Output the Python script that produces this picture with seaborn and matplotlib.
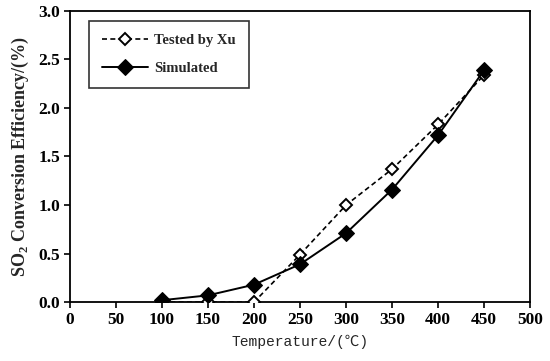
import matplotlib
matplotlib.use("Agg")
import matplotlib.pyplot as plt
import pandas as pd
import seaborn as sns

# ── data ──────────────────────────────────────────────────────────────────────
temperature = [100, 150, 200, 250, 300, 350, 400, 450]
tested_xu = [0.0, 0.0, 0.0, 0.49, 1.00, 1.37, 1.83, 2.34]
simulated = [0.02, 0.07, 0.18, 0.39, 0.71, 1.16, 1.72, 2.39]

sns.set_theme(style="white")
plt.rcParams["font.family"] = ["Liberation Serif", "DejaVu Serif"]
plt.rcParams["font.weight"] = "bold"
plt.rcParams["mathtext.fontset"] = "custom"
plt.rcParams["mathtext.rm"] = "Liberation Serif:bold"
plt.rcParams["mathtext.bf"] = "Liberation Serif:bold"

df_t = pd.DataFrame({"T": temperature, "eff": tested_xu})
df_s = pd.DataFrame({"T": temperature, "eff": simulated})

fig, ax = plt.subplots(figsize=(5.5, 3.61), dpi=100)
fig.subplots_adjust(left=0.127, right=0.964, bottom=0.163, top=0.97)

sns.lineplot(data=df_t, x="T", y="eff", ax=ax, color="black", lw=1.2,
             linestyle=(0, (3, 2)), marker="D", markersize=6.5,
             markerfacecolor="white", markeredgecolor="black",
             markeredgewidth=1.4, label="Tested by Xu", zorder=3)
sns.lineplot(data=df_s, x="T", y="eff", ax=ax, color="black", lw=1.4,
             marker="D", markersize=8.5, markerfacecolor="black",
             markeredgecolor="black", label="Simulated", zorder=4)

ax.set_xlim(0, 500)
ax.set_ylim(0, 3.0)
ax.set_xticks(range(0, 501, 50))
ax.set_yticks([0.0, 0.5, 1.0, 1.5, 2.0, 2.5, 3.0])
ax.set_yticklabels([f"{v:.1f}" for v in ax.get_yticks()])
ax.tick_params(axis="both", direction="out", length=4, width=1.2,
               labelsize=12.5, color="black", labelcolor="black",
               bottom=True, left=True, pad=3)
for lab in ax.get_xticklabels() + ax.get_yticklabels():
    lab.set_fontweight("bold")
for sp in ax.spines.values():
    sp.set_color("black")
    sp.set_linewidth(1.3)

ax.set_xlabel("Temperature/(℃)", fontsize=10.5, fontweight="normal",
              family=["Liberation Mono", "Noto Sans CJK SC"], labelpad=5)
ax.set_ylabel(r"SO$_2$ Conversion Efficiency/(%)", fontsize=13,
              fontweight="bold", labelpad=5)

leg = ax.legend(loc="upper left", bbox_to_anchor=(0.025, 0.99),
                frameon=True, fancybox=False, edgecolor="black",
                handlelength=3.2, handletextpad=0.4, borderpad=0.9,
                labelspacing=1.0, prop={"weight": "bold", "size": 10.5})
leg.get_frame().set_linewidth(1.2)

fig.savefig("out.png", dpi=100)
